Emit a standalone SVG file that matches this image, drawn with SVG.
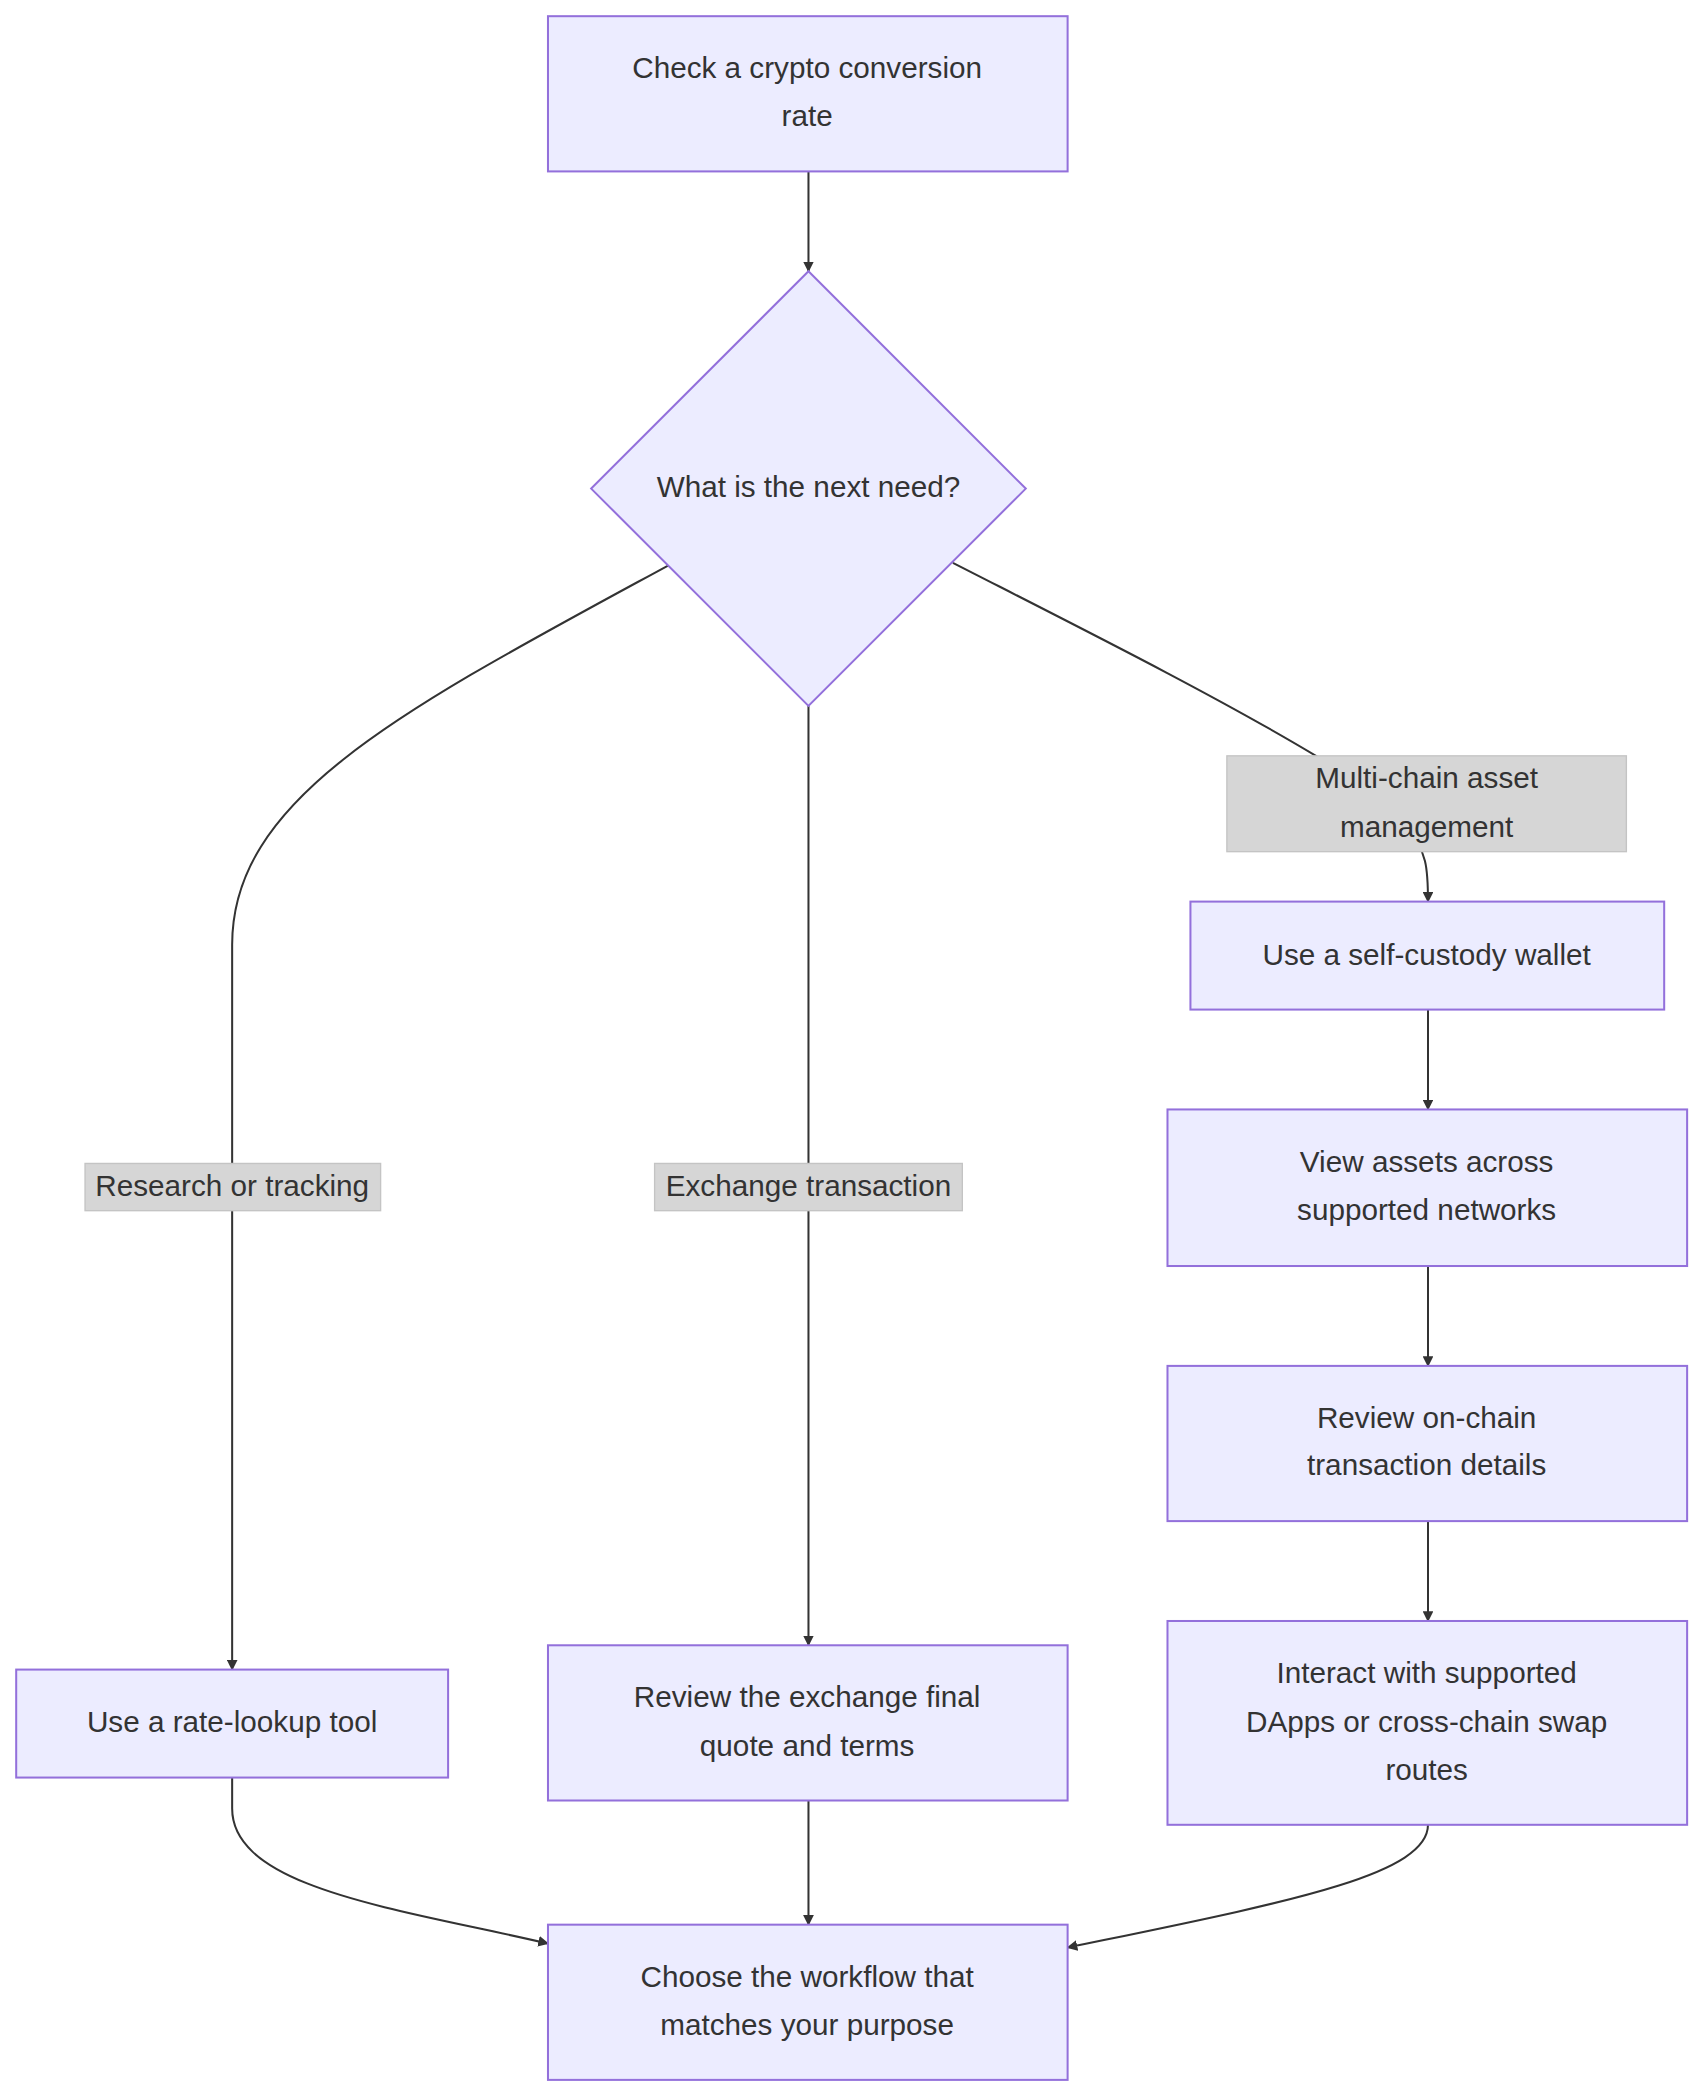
<svg xmlns="http://www.w3.org/2000/svg" width="1706" height="2100" viewBox="0 0 1706 2100">
<style>
.n{fill:#ECECFF;stroke:#9370DB;stroke-width:1.5}
.t{font-family:"Liberation Sans",Arial,sans-serif;font-size:22px;fill:#333;text-anchor:middle}
.e{fill:none;stroke:#333;stroke-width:1.5}
.lb{fill:#d6d6d6;stroke:#c4c4c4;stroke-width:1}
</style>
<defs><marker id="ar" viewBox="0 0 10 10" refX="9" refY="5" markerWidth="8" markerHeight="8" orient="auto" markerUnits="userSpaceOnUse"><path d="M0,0L10,5L0,10z" fill="#333"/></marker></defs>
<rect width="1706" height="2100" fill="#fff"/>
<g transform="scale(1.3497)">
<g id="edges">
<path class="e" d="M599,127L599,201" marker-end="url(#ar)"/>
<path class="e" d="M495,419C300,525 172,590 172,700L172,1237" marker-end="url(#ar)"/>
<path class="e" d="M599,523L599,1219" marker-end="url(#ar)"/>
<path class="e" d="M706,417C800,465 900,515 975,560L1040,610C1058,630 1058,645 1058,668" marker-end="url(#ar)"/>
<path class="e" d="M1058,748L1058,822" marker-end="url(#ar)"/>
<path class="e" d="M1058,938L1058,1012" marker-end="url(#ar)"/>
<path class="e" d="M1058,1127L1058,1201" marker-end="url(#ar)"/>
<path class="e" d="M172,1317L172,1340C172,1400 300,1415 406,1440" marker-end="url(#ar)"/>
<path class="e" d="M599,1334L599,1426" marker-end="url(#ar)"/>
<path class="e" d="M1058,1352C1058,1390 950,1410 791,1443" marker-end="url(#ar)"/>
</g>
<g id="labels">
<rect class="lb" x="909" y="560" width="296" height="71"/>
<text class="t" x="1057" y="584">Multi-chain asset</text>
<text class="t" x="1057" y="620">management</text>
<rect class="lb" x="63" y="862" width="219" height="35"/>
<text class="t" x="172" y="886">Research or tracking</text>
<rect class="lb" x="485" y="862" width="228" height="35"/>
<text class="t" x="599" y="886">Exchange transaction</text>
</g>
<g id="A"><rect class="n" x="406" y="12" width="385" height="115"/><text class="t" x="598" y="58">Check a crypto conversion</text><text class="t" x="598" y="93">rate</text></g>
<g id="D"><path class="n" d="M599,201L760,362L599,523L438,362Z"/><text class="t" x="599" y="368">What is the next need?</text></g>
<g id="W"><rect class="n" x="882" y="668" width="351" height="80"/><text class="t" x="1057" y="715">Use a self-custody wallet</text></g>
<g id="V"><rect class="n" x="865" y="822" width="385" height="116"/><text class="t" x="1057" y="868">View assets across</text><text class="t" x="1057" y="904">supported networks</text></g>
<g id="R"><rect class="n" x="865" y="1012" width="385" height="115"/><text class="t" x="1057" y="1058">Review on-chain</text><text class="t" x="1057" y="1093">transaction details</text></g>
<g id="I"><rect class="n" x="865" y="1201" width="385" height="151"/><text class="t" x="1057" y="1247">Interact with supported</text><text class="t" x="1057" y="1283">DApps or cross-chain swap</text><text class="t" x="1057" y="1319">routes</text></g>
<g id="L"><rect class="n" x="12" y="1237" width="320" height="80"/><text class="t" x="172" y="1283">Use a rate-lookup tool</text></g>
<g id="X"><rect class="n" x="406" y="1219" width="385" height="115"/><text class="t" x="598" y="1265">Review the exchange final</text><text class="t" x="598" y="1301">quote and terms</text></g>
<g id="C"><rect class="n" x="406" y="1426" width="385" height="115"/><text class="t" x="598" y="1472">Choose the workflow that</text><text class="t" x="598" y="1508">matches your purpose</text></g>
</g>
</svg>
